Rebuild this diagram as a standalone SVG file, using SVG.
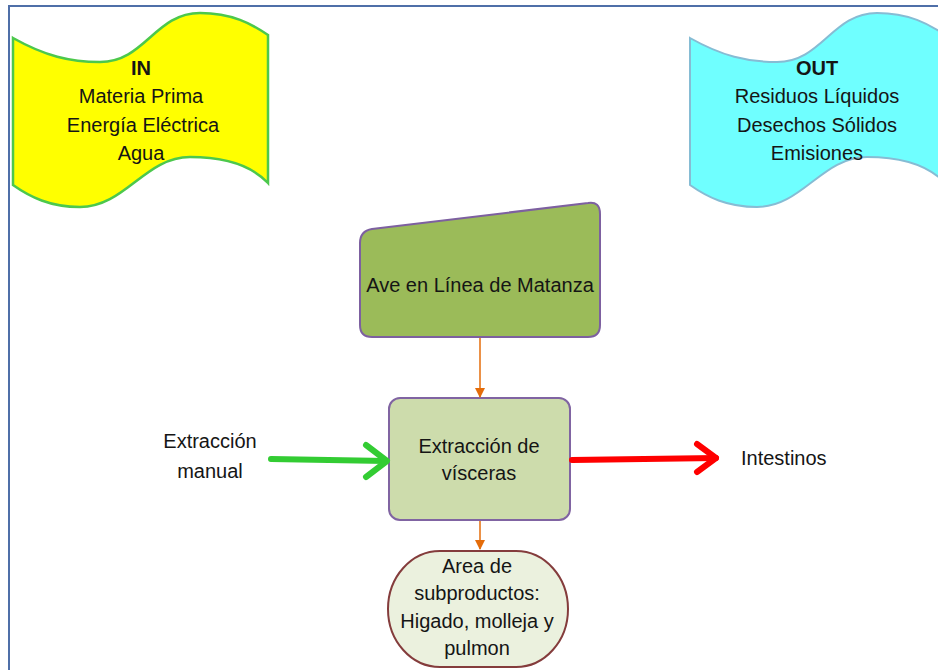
<svg xmlns="http://www.w3.org/2000/svg" width="938" height="670" viewBox="0 0 938 670">
<defs>
<style>
text{font-family:"Liberation Sans",Arial,sans-serif;font-size:20px;fill:#151515;text-anchor:middle}
.b{font-weight:bold}
.conn-o{stroke:#E46C0A;stroke-width:1.5;fill:none}
</style>
<marker id="ao" markerWidth="10" markerHeight="10" refX="9" refY="5" orient="auto" markerUnits="userSpaceOnUse">
<path d="M0,0 L10,5 L0,10 Z" fill="#E46C0A"/>
</marker>
</defs>
<rect width="938" height="670" fill="#fff"/>
<path d="M9,670 L9,6 L938,6" fill="none" stroke="#4F6FA8" stroke-width="2"/>
<g id="in">
<path d="M13,38 C45,56 70,62 100,62 C145,62 155,13 200,13 C232,13 252,24 268,35 L268,183 C252,166 225,157 190,157 C145,157 125,207 80,207 C50,207 30,197 13,185 Z" fill="#FFFF00" stroke="#4CC84C" stroke-width="2.5"/>
<text x="141" y="75" class="b">IN</text>
<text x="141" y="103">Materia Prima</text>
<text x="143" y="132">Energía Eléctrica</text>
<text x="141" y="160">Agua</text>
</g>
<g id="out">
<path d="M690,38 C722,56 747,62 777,62 C822,62 832,13 877,13 C909,13 929,24 945,35 L945,183 C929,166 902,157 867,157 C822,157 802,207 757,207 C727,207 707,197 690,185 Z" fill="#6FFFFF" stroke="#86BCD4" stroke-width="2"/>
<text x="817" y="75" class="b">OUT</text>
<text x="817" y="103">Residuos Líquidos</text>
<text x="817" y="132">Desechos Sólidos</text>
<text x="817" y="160">Emisiones</text>
</g>
<g id="ave">
<path d="M372,229 L588,203 Q600,201 600,214 L600,325 Q600,337 588,337 L372,337 Q360,337 360,325 L360,243 Q360,231 372,229 Z" fill="#9BBB59" stroke="#7D60A0" stroke-width="2"/>
<text x="480" y="292">Ave en Línea de Matanza</text>
</g>
<g id="extraccion">
<rect x="389" y="398" width="181" height="122" rx="11" fill="#CDDCAC" stroke="#8064A2" stroke-width="2"/>
<text x="479" y="453">Extracción de</text>
<text x="479" y="480">vísceras</text>
</g>
<g id="area">
<rect x="388" y="551" width="180" height="116" rx="52" ry="58" fill="#EBF1DE" stroke="#843C3C" stroke-width="2"/>
<text x="477" y="573">Area de</text>
<text x="477" y="600">subproductos:</text>
<text x="477" y="628">Higado, molleja y</text>
<text x="477" y="655">pulmon</text>
</g>
<g id="labels">
<text x="210" y="448">Extracción</text>
<text x="210" y="478">manual</text>
<text x="741" y="465" style="text-anchor:start">Intestinos</text>
</g>
<g id="connectors">
<line x1="480" y1="338" x2="480" y2="397" class="conn-o" marker-end="url(#ao)"/>
<line x1="480" y1="521" x2="480" y2="549" class="conn-o" marker-end="url(#ao)"/>
<path d="M271,459 L386,461" stroke="#33CC33" stroke-width="6" stroke-linecap="round" fill="none"/>
<path d="M366,445 L387,461 L366,477" stroke="#33CC33" stroke-width="6" stroke-linecap="round" stroke-linejoin="round" fill="none"/>
<path d="M572,460 L716,458" stroke="#FF0000" stroke-width="6" stroke-linecap="round" fill="none"/>
<path d="M697,444 L716,458 L697,472" stroke="#FF0000" stroke-width="6" stroke-linecap="round" stroke-linejoin="round" fill="none"/>
</g>
</svg>
